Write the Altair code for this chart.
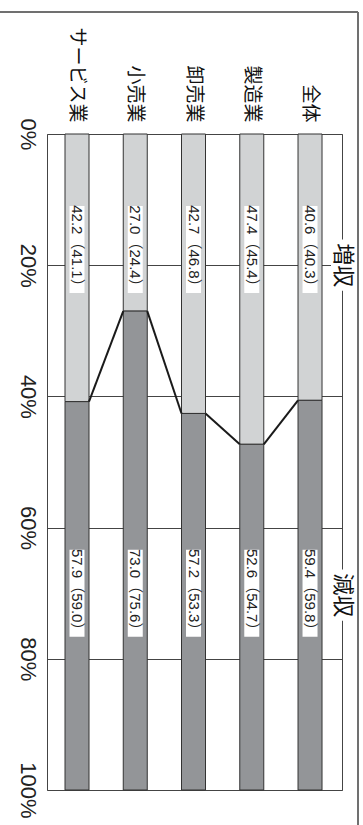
import altair as alt
import pandas as pd

# ---- data (left-to-right as drawn in the rotated figure) ----
categories = ["サービス業", "小売業", "卸売業", "製造業", "全体"]
increase = [42.2, 27.0, 42.7, 47.4, 40.6]
increase_prev = [41.1, 24.4, 46.8, 45.4, 40.3]
decrease = [57.9, 73.0, 57.2, 52.6, 59.4]
decrease_prev = [59.0, 75.6, 53.3, 54.7, 59.8]
boundary_drawn = [40.8, 27.0, 42.6, 47.3, 40.6]
series_names = ["増収", "減収"]
y_ticks = [0, 20, 40, 60, 80, 100]

# ---- style constants ----
W, H = 295, 656
LIGHT, DARK = "#d1d3d4", "#939598"
LINE = "#444444"
FONT_NUM = "Liberation Sans, Noto Sans CJK JP"
FONT_JP = "Noto Sans CJK JP"
LABEL_POS = [17.6, 70.0]      # centre of value boxes (percent units)
LABEL_HALF = 6.63
HEAD_POS = [20.0, 70.3]
HEAD_HALF = 3.9

bars = pd.DataFrame({
    "cat": categories * 2,
    "y0": [0.0] * 5 + boundary_drawn,
    "y1": boundary_drawn + [100.0] * 5,
    "part": [series_names[0]] * 5 + [series_names[1]] * 5,
})

labels = pd.DataFrame({
    "cat": categories * 2,
    "pos": [LABEL_POS[0]] * 5 + [LABEL_POS[1]] * 5,
    "text": [f"{a:.1f}（{b:.1f}）" for a, b in zip(increase, increase_prev)]
            + [f"{a:.1f}（{b:.1f}）" for a, b in zip(decrease, decrease_prev)],
})
labels["lo"] = labels["pos"] - LABEL_HALF
labels["hi"] = labels["pos"] + LABEL_HALF

conn = pd.DataFrame({
    "cat": categories[:-1],
    "cat2": categories[1:],
    "b1": boundary_drawn[:-1],
    "b2": boundary_drawn[1:],
})

heads = pd.DataFrame({"name": series_names, "pos": HEAD_POS})
heads["lo"] = heads["pos"] - HEAD_HALF
heads["hi"] = heads["pos"] + HEAD_HALF

xscale = alt.Scale(domain=categories, paddingInner=0.588, paddingOuter=0.326, align=0.474)
xaxis = alt.Axis(orient="top", title=None, ticks=False, domain=False, labelAngle=90,
                 labelAlign="right", labelBaseline="middle", labelPadding=12,
                 labelFont=FONT_JP, labelFontSize=19, labelColor="#111")
yscale = alt.Scale(domain=[0, 100], reverse=True, nice=False, zero=False)
yaxis = alt.Axis(orient="left", title=None, values=y_ticks, labelExpr="datum.value + '%'",
                 ticks=False, domain=False, grid=True, gridColor=LINE, gridWidth=1,
                 gridOpacity=1, labelAngle=90, labelAlign="center", labelBaseline="top",
                 labelPadding=10, labelFlush=False, labelFont="Liberation Sans",
                 labelFontSize=22, labelColor="#222")


def X(f):
    return alt.X(f, scale=xscale, axis=xaxis)


def Y(f):
    return alt.Y(f, scale=yscale, axis=yaxis)


bar_layer = alt.Chart(bars).mark_bar(width=24, stroke="#333", strokeWidth=1).encode(
    x=X("cat:N"), y=Y("y0:Q"), y2="y1:Q",
    color=alt.Color("part:N", scale=alt.Scale(domain=series_names, range=[LIGHT, DARK]), legend=None),
)

conn_layer = alt.Chart(conn).mark_rule(xOffset=12, x2Offset=-12, strokeWidth=2, color="#1a1a1a").encode(
    x=X("cat:N"), x2="cat2:N", y=Y("b1:Q"), y2="b2:Q",
)

box_layer = alt.Chart(labels).mark_bar(width=15, color="white").encode(
    x=X("cat:N"), y=Y("lo:Q"), y2="hi:Q",
)

text_layer = alt.Chart(labels).mark_text(angle=90, align="center", baseline="middle",
                                         font=FONT_NUM, fontSize=15, color="#222").encode(
    x=X("cat:N"), y=Y("pos:Q"), text="text:N",
)

head_box = alt.Chart(heads).mark_rect(color="white").encode(
    x=alt.value(W - 11), x2=alt.value(W + 11), y=Y("lo:Q"), y2="hi:Q",
)

head_text = alt.Chart(heads).mark_text(angle=90, align="center", baseline="middle",
                                       font=FONT_JP, fontSize=22, color="#111").encode(
    x=alt.value(W + 0.5), y=Y("pos:Q"), text="name:N",
)

one = pd.DataFrame({"k": [0]})
frame_top = alt.Chart(one).mark_rule(color="#707070", strokeWidth=2).encode(
    x=alt.value(-47), x2=alt.value(311), y=alt.value(-122),
)
frame_right = alt.Chart(one).mark_rule(color="#707070", strokeWidth=2).encode(
    x=alt.value(311), y=alt.value(-122), y2=alt.value(700),
)

chart = alt.layer(
    bar_layer, conn_layer, box_layer, text_layer, head_box, head_text, frame_top, frame_right
).properties(
    width=W, height=H, autosize="none",
    padding={"left": 47, "top": 134, "right": 21, "bottom": 35},
    background="white",
).configure_view(stroke=LINE, strokeWidth=1)

chart.save("out.html", embed_options={"renderer": "svg", "actions": False})
